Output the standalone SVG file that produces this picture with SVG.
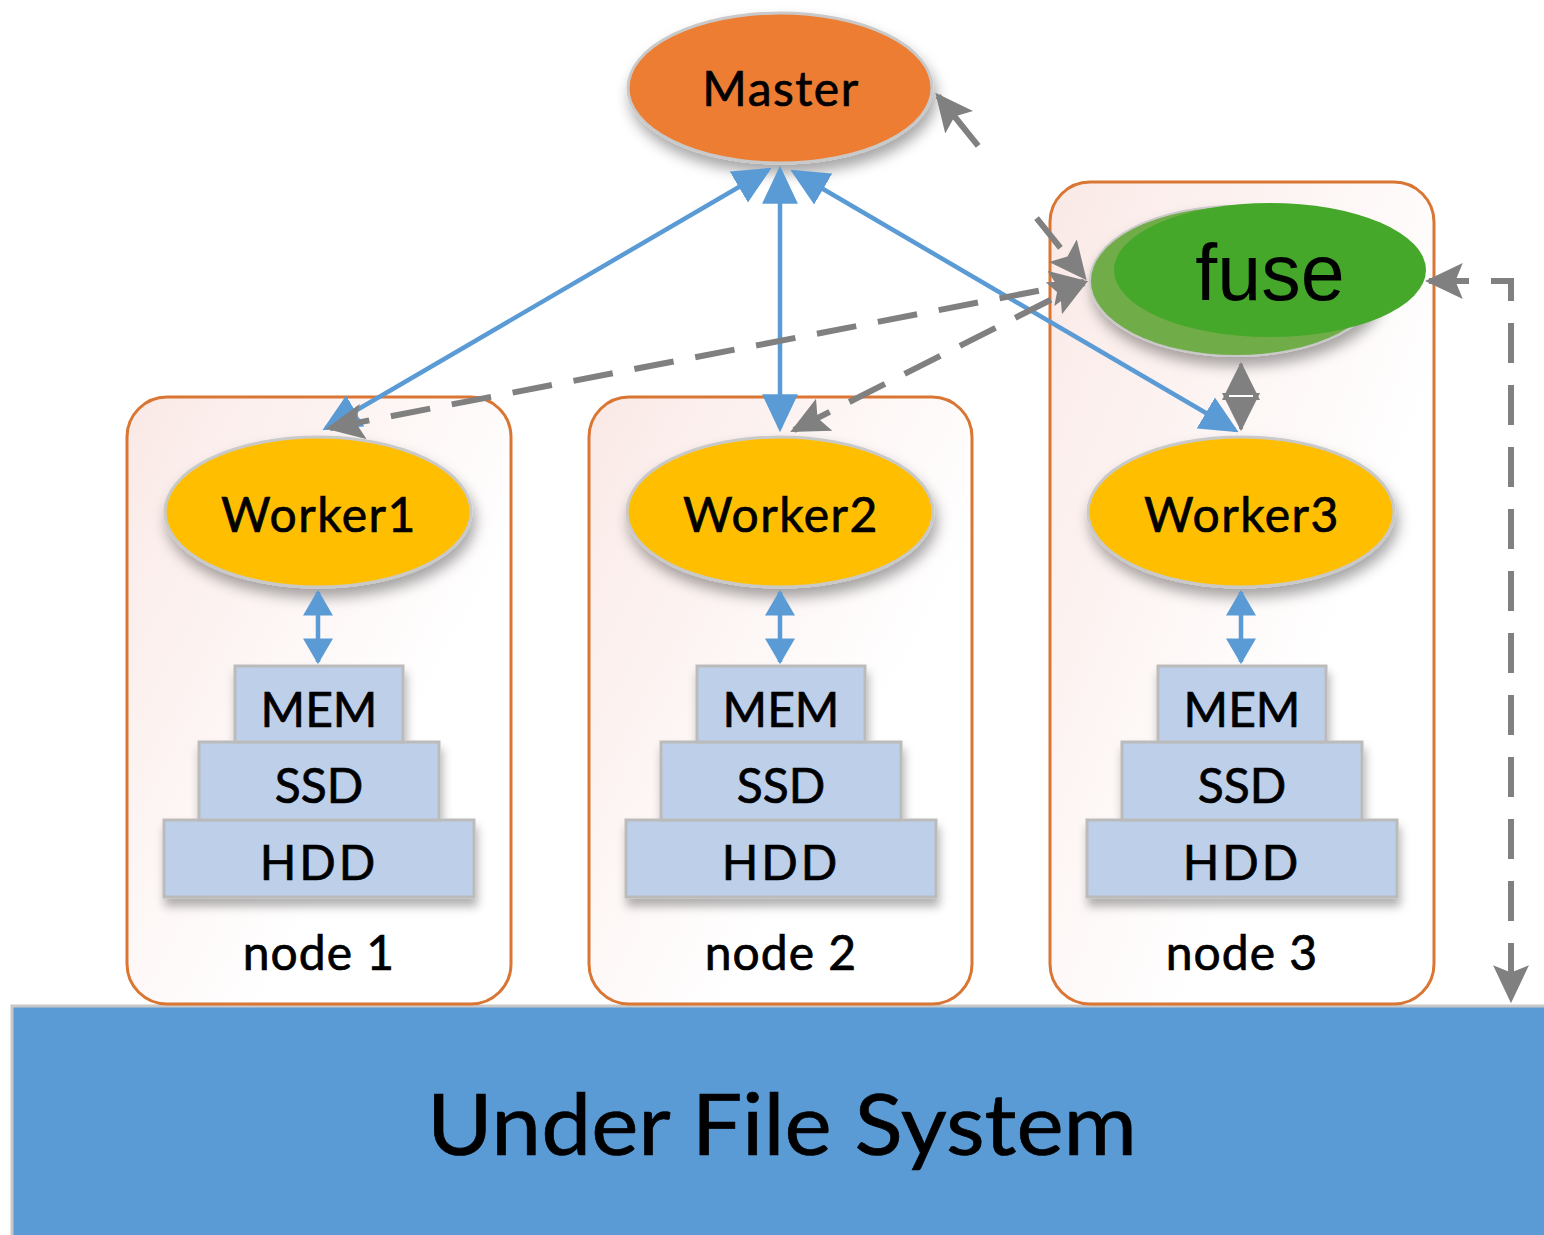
<svg xmlns="http://www.w3.org/2000/svg" width="1544" height="1235" viewBox="0 0 1544 1235">
  <style>
    .lbl { font-family: "Lato", "Open Sans", "Noto Sans", sans-serif; fill: #000; stroke: #000; stroke-width: 0.7; text-anchor: middle; }
    .box { stroke: #D97634; stroke-width: 3; fill: url(#boxFill); }
    .worker { fill: #FFBF00; stroke: #C9C9C9; stroke-width: 3; filter: url(#shadow); }
    .tier { fill: #BDCFE9; stroke: #BBBBBB; stroke-width: 3; }
    .blue { stroke: #5B9BD5; stroke-width: 4.5; fill: none; }
    .gray { stroke: #808080; stroke-width: 6; fill: none; stroke-dasharray: 40 22; }
  </style>
  <defs>
    <linearGradient id="boxFill" x1="0" y1="0" x2="0.7" y2="0.6">
      <stop offset="0" stop-color="#FAE9E6"/>
      <stop offset="1" stop-color="#FFFFFF"/>
    </linearGradient>
    <filter id="shadow" x="-20%" y="-25%" width="150%" height="170%">
      <feDropShadow dx="3" dy="9" stdDeviation="7" flood-color="#000" flood-opacity="0.35"/>
    </filter>
    <filter id="tierShadow" x="-10%" y="-10%" width="130%" height="140%">
      <feDropShadow dx="2" dy="8" stdDeviation="5" flood-color="#000" flood-opacity="0.3"/>
    </filter>
    <marker id="blueHead" markerUnits="userSpaceOnUse" markerWidth="38" markerHeight="36" viewBox="0 0 36 34" refX="32" refY="17" orient="auto-start-reverse">
      <path d="M0,0 L36,17 L0,34 Z" fill="#5B9BD5"/>
    </marker>
    <marker id="blueSmall" markerUnits="userSpaceOnUse" markerWidth="26" markerHeight="30" viewBox="0 0 24 28" refX="22" refY="14" orient="auto-start-reverse">
      <path d="M0,0 L24,14 L0,28 Z" fill="#5B9BD5"/>
    </marker>
    <marker id="grayHead" markerUnits="userSpaceOnUse" markerWidth="38" markerHeight="36" viewBox="0 0 36 34" refX="32" refY="17" orient="auto-start-reverse">
      <path d="M0,0 L36,17 L0,34 L7,17 Z" fill="#808080"/>
    </marker>
    <marker id="grayBig" markerUnits="userSpaceOnUse" markerWidth="38" markerHeight="38" viewBox="0 0 36 36" refX="34" refY="18" orient="auto-start-reverse">
      <path d="M0,0 L36,18 L0,36 Z" fill="#808080"/>
    </marker>
  </defs>

  <rect width="1544" height="1235" fill="#FFFFFF"/>

  <!-- storage base -->
  <g id="ufs">
    <rect x="12" y="1006" width="1540" height="240" fill="#5B9BD5" stroke="#C8C8C8" stroke-width="3"/>
    <text class="lbl" x="782" y="1155" font-size="86" textLength="710" lengthAdjust="spacingAndGlyphs">Under File System</text>
  </g>

  <!-- node 1 -->
  <g id="node1">
    <rect class="box" x="127" y="397" width="384" height="607" rx="40"/>
    <g filter="url(#tierShadow)">
      <rect class="tier" x="164" y="820" width="310" height="77"/>
      <rect class="tier" x="199" y="742" width="240" height="78"/>
      <rect class="tier" x="235" y="666" width="168" height="76"/>
    </g>
    <text class="lbl" x="319" y="727" font-size="48">MEM</text>
    <text class="lbl" x="319" y="803" font-size="48">SSD</text>
    <text class="lbl" x="319" y="880" font-size="48" letter-spacing="3">HDD</text>
    <text class="lbl" x="319" y="970" font-size="48" letter-spacing="1">node 1</text>
  </g>
  <g id="worker1">
    <ellipse class="worker" cx="318" cy="512" rx="153" ry="75"/>
    <text class="lbl" x="319" y="532" font-size="48" letter-spacing="1.5">Worker1</text>
  </g>

  <!-- node 2 -->
  <g id="node2">
    <rect class="box" x="589" y="397" width="383" height="607" rx="40"/>
    <g filter="url(#tierShadow)">
      <rect class="tier" x="626" y="820" width="310" height="77"/>
      <rect class="tier" x="661" y="742" width="240" height="78"/>
      <rect class="tier" x="697" y="666" width="168" height="76"/>
    </g>
    <text class="lbl" x="781" y="727" font-size="48">MEM</text>
    <text class="lbl" x="781" y="803" font-size="48">SSD</text>
    <text class="lbl" x="781" y="880" font-size="48" letter-spacing="3">HDD</text>
    <text class="lbl" x="781" y="970" font-size="48" letter-spacing="1">node 2</text>
  </g>
  <g id="worker2">
    <ellipse class="worker" cx="780" cy="512" rx="153" ry="75"/>
    <text class="lbl" x="781" y="532" font-size="48" letter-spacing="1.5">Worker2</text>
  </g>

  <!-- node 3 -->
  <g id="node3">
    <rect class="box" x="1050" y="182" width="384" height="822" rx="40"/>
    <g filter="url(#tierShadow)">
      <rect class="tier" x="1087" y="820" width="310" height="77"/>
      <rect class="tier" x="1122" y="742" width="240" height="78"/>
      <rect class="tier" x="1158" y="666" width="168" height="76"/>
    </g>
    <text class="lbl" x="1242" y="727" font-size="48">MEM</text>
    <text class="lbl" x="1242" y="803" font-size="48">SSD</text>
    <text class="lbl" x="1242" y="880" font-size="48" letter-spacing="3">HDD</text>
    <text class="lbl" x="1242" y="970" font-size="48" letter-spacing="1">node 3</text>
  </g>
  <g id="worker3">
    <ellipse class="worker" cx="1241" cy="512" rx="153" ry="75"/>
    <text class="lbl" x="1242" y="532" font-size="48" letter-spacing="1.5">Worker3</text>
  </g>

  <!-- fuse client -->
  <g id="fuse">
    <ellipse cx="1236" cy="281" rx="146" ry="75" fill="#6FAC46" stroke="#C9C9C9" stroke-width="2" filter="url(#shadow)"/>
    <ellipse cx="1270" cy="270" rx="156" ry="67" fill="#45A82A"/>
    <text x="1270" y="300" font-size="79" text-anchor="middle" font-family="'Liberation Sans', Arial, sans-serif" fill="#000">fuse</text>
  </g>

  <!-- master -->
  <g id="master">
    <ellipse cx="780" cy="88" rx="152" ry="75" fill="#ED7D31" stroke="#C9C9C9" stroke-width="3" filter="url(#shadow)"/>
    <text class="lbl" x="781" y="106" font-size="48" letter-spacing="1.5">Master</text>
  </g>

  <g id="connectors">
    <!-- master <-> workers -->
    <path class="blue" d="M326,428 L768,170" marker-start="url(#blueHead)" marker-end="url(#blueHead)"/>
    <path class="blue" d="M780,428 L780,170" marker-start="url(#blueHead)" marker-end="url(#blueHead)"/>
    <path class="blue" d="M1235,430 L794,172" marker-start="url(#blueHead)" marker-end="url(#blueHead)"/>

    <!-- worker <-> tiered storage -->
    <path class="blue" d="M318,592 L318,662" marker-start="url(#blueSmall)" marker-end="url(#blueSmall)"/>
    <path class="blue" d="M780,592 L780,662" marker-start="url(#blueSmall)" marker-end="url(#blueSmall)"/>
    <path class="blue" d="M1241,592 L1241,662" marker-start="url(#blueSmall)" marker-end="url(#blueSmall)"/>

    <!-- fuse <-> workers -->
    <path class="gray" d="M330,428 L1084,282" marker-start="url(#grayHead)" marker-end="url(#grayHead)"/>
    <path class="gray" d="M794,430 L1084,283" marker-start="url(#grayHead)" marker-end="url(#grayHead)"/>
    <path d="M1241,364 L1241,429" stroke="#808080" stroke-width="4" fill="none" marker-start="url(#grayBig)" marker-end="url(#grayBig)"/>
    <path d="M1229,396 L1253,396" stroke="#FFFFFF" stroke-width="2" fill="none"/>

    <!-- fuse <-> master -->
    <path class="gray" d="M938,96 L1084,277" style="stroke-dasharray: 64 93 38 100" marker-start="url(#grayHead)" marker-end="url(#grayHead)"/>

    <!-- fuse <-> under file system -->
    <path class="gray" d="M1429,281 L1511,281 L1511,999" marker-start="url(#grayHead)" marker-end="url(#grayHead)"/>
  </g>
</svg>
